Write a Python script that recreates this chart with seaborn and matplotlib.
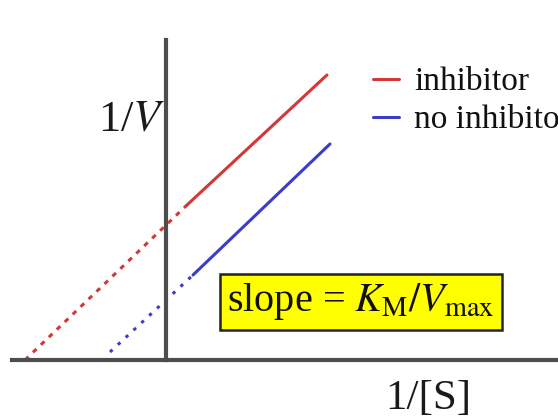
import matplotlib
matplotlib.use("Agg")
import matplotlib.pyplot as plt
from matplotlib.lines import Line2D
import seaborn as sns
import pandas as pd

# ---- data (units: 1/[S] horizontally, 1/V vertically) ----
series_names = ["inhibitor", "inhibitor", "no inhibitor", "no inhibitor"]
segment_kind = ["dashed", "solid", "dotted", "solid"]
seg_x = [[-1.41, 0.21], [0.21, 1.61], [-0.56, 0.27], [0.27, 1.64]]
seg_y = [[0.00, 1.55], [1.55, 2.85], [0.08, 0.85], [0.85, 2.16]]
legend_labels = ["inhibitor", "no inhibitor"]
x_axis_extent = [-1.54, 3.92]
y_axis_extent = [0.0, 3.2]

rows = []
for name, kind, xs, ys in zip(series_names, segment_kind, seg_x, seg_y):
    for xv, yv in zip(xs, ys):
        rows.append({"x": xv, "y": yv, "series": name, "kind": kind})
df = pd.DataFrame(rows)

sns.set_style("white")
plt.rcParams["font.family"] = ["Liberation Serif", "DejaVu Serif"]
plt.rcParams["mathtext.fontset"] = "stix"

colors = {"inhibitor": "#d23838", "no inhibitor": "#3c3cc6"}
dashes = {"solid": "", "dashed": (1.6, 2.0), "dotted": (1.1, 2.4)}

fig = plt.figure(figsize=(5.58, 4.2), dpi=100)
ax = fig.add_axes([0, 0, 1, 1])

sns.lineplot(data=df, x="x", y="y", hue="series", style="kind",
             palette=colors, dashes=dashes, linewidth=2.2,
             sort=False, estimator=None, legend=False, ax=ax)

ax.set_xlim(-1.66, 3.92)
ax.set_ylim(-0.60, 3.60)
ax.set_xlabel("")
ax.set_ylabel("")
ax.set_xticks([])
ax.set_yticks([])

for side in ["top", "right"]:
    ax.spines[side].set_visible(False)
for side in ["left", "bottom"]:
    ax.spines[side].set_position(("data", 0))
    ax.spines[side].set_color("#4d4d4d")
    ax.spines[side].set_linewidth(3.0)
ax.spines["left"].set_bounds(*y_axis_extent)
ax.spines["bottom"].set_bounds(*x_axis_extent)

# axis labels
ax.text(-0.01, 2.40, "1/$V$", fontsize=32, ha="right", va="center", color="#1a1a1a")
ax.text(2.62, -0.385, "1/[S]", fontsize=31, ha="center", va="center", color="#1a1a1a")

# slope box
ax.text(1.95, 0.58, r"slope = $K_{\mathrm{M}}/V_{\mathrm{max}}$", fontsize=29,
        ha="center", va="center", color="#111111",
        bbox=dict(boxstyle="square,pad=0.18", facecolor="#ffff00",
                  edgecolor="#222222", linewidth=1.8))

# legend
handles = [Line2D([], [], color=colors[n], linewidth=2.2) for n in legend_labels]
ax.legend(handles, legend_labels, loc="upper left", bbox_to_anchor=(0.668, 0.841),
          frameon=False, fontsize=24, handlelength=0.8, handletextpad=0.45,
          labelspacing=0.23, borderpad=0, borderaxespad=0, labelcolor="#111111")

fig.savefig("out.png", dpi=100)
